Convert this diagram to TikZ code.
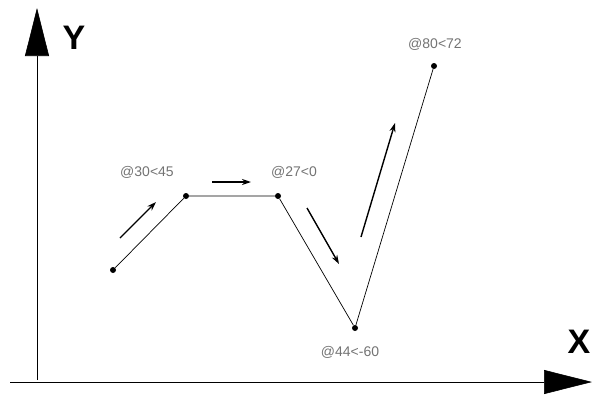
\documentclass[tikz,border=0pt]{standalone}
\usepackage{fontspec}
\setsansfont{Liberation Sans}
\usetikzlibrary{arrows.meta,positioning}

\begin{document}
\begin{tikzpicture}[x=1pt, y=-1pt,
  vertex/.style={circle, fill=black, inner sep=0pt, minimum size=6pt},
  coordlabel/.style={font=\sffamily\fontsize{14}{16}\selectfont, text=black!55},
  axislabel/.style={font=\sffamily\bfseries\fontsize{34}{38}\selectfont},
  axis/.style={draw, line width=0.6pt, -{Triangle[length=48pt, width=24pt]}},
  segment/.style={draw, line width=0.7pt},
  dir/.style={draw, line width=1.4pt, -{Stealth[length=9pt, width=6pt]}}
]
\useasboundingbox (0,0) rectangle (592,410);

% Axes
\coordinate (yfoot) at (37,380);
\coordinate (ytip) at (37,8);
\coordinate (xfoot) at (10,382);
\coordinate (xtip) at (592,382);
\draw[axis] (yfoot) -- (ytip);
\draw[axis] (xfoot) -- (xtip);
\node[axislabel] (ylab) at (74,38) {Y};
\node[axislabel] (xlab) at (579,342) {X};

% Polyline vertices
\node[vertex] (p1) at (113,270) {};
\node[vertex] (p2) at (186,196) {};
\node[vertex] (p3) at (278,196) {};
\node[vertex] (p4) at (355,328) {};
\node[vertex] (p5) at (434,66) {};

% Segments
\draw[segment] (p1) -- (p2) -- (p3) -- (p4) -- (p5);

% Labels
\node[coordlabel] (l2) at (147,172) {@30<45};
\node[coordlabel] (l3) at (294,172) {@27<0};
\node[coordlabel] (l4) at (350,352) {@44<-60};
\node[coordlabel] (l5) at (435,44) {@80<72};

% Direction arrows
\coordinate (a1s) at (120,238); \coordinate (a1e) at (156,202);
\coordinate (a2s) at (212,182); \coordinate (a2e) at (251,182);
\coordinate (a3s) at (307,208); \coordinate (a3e) at (339,264);
\coordinate (a4s) at (361,237); \coordinate (a4e) at (395,123);
\draw[dir] (a1s) -- (a1e);
\draw[dir] (a2s) -- (a2e);
\draw[dir] (a3s) -- (a3e);
\draw[dir] (a4s) -- (a4e);

\end{tikzpicture}
\end{document}
